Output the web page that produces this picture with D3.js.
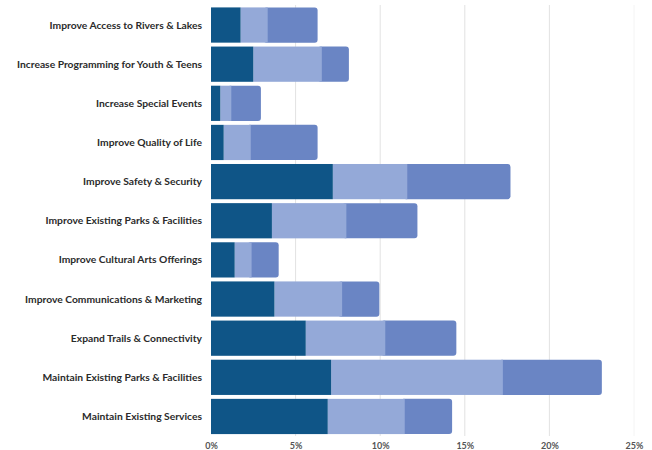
<!DOCTYPE html>
<html>
<head>
<meta charset="utf-8">
<script src="https://cdnjs.cloudflare.com/ajax/libs/d3/7.8.5/d3.min.js"></script>
<style>
  body { margin: 0; background: #fff; }
  svg { display: block; font-family: Lato, "Open Sans", sans-serif; }
</style>
</head>
<body>
<svg width="652" height="450"></svg>
<script>
const categories = [
  "Improve Access to Rivers & Lakes",
  "Increase Programming for Youth & Teens",
  "Increase Special Events",
  "Improve Quality of Life",
  "Improve Safety & Security",
  "Improve Existing Parks & Facilities",
  "Improve Cultural Arts Offerings",
  "Improve Communications & Marketing",
  "Expand Trails & Connectivity",
  "Maintain Existing Parks & Facilities",
  "Maintain Existing Services"
];
// three stacked series, percent
const firstChoice  = [1.75, 2.5, 0.55, 0.75, 7.2, 3.6, 1.4, 3.75, 5.6, 7.1, 6.9];
const secondChoice = [1.6, 4.05, 0.65, 1.6, 4.4, 4.4, 1.0, 4.0, 4.7, 10.15, 4.55];
const thirdChoice  = [2.95, 1.6, 1.75, 3.95, 6.1, 4.2, 1.6, 2.2, 4.2, 5.85, 2.8];
const tickValues = [0, 5, 10, 15, 20, 25];

const colors = ["#0f5587", "#94a9d8", "#6a85c4"];

const svg = d3.select("svg");

const x = d3.scaleLinear().domain([0, 25]).range([211, 634]);
const y = d3.scaleBand().domain(categories).range([3.5, 438])
  .paddingInner(0.1).paddingOuter(0.1);

// grid
svg.append("g").selectAll("line")
  .data(tickValues.slice(1))
  .join("line")
    .attr("x1", d => x(d)).attr("x2", d => x(d))
    .attr("y1", 5).attr("y2", 436)
    .attr("stroke", d => d === 25 ? "#f4f4f4" : "#e2e2e2")
    .attr("stroke-width", 1);

const rows = categories.map((c, i) => {
  const vals = [firstChoice[i], secondChoice[i], thirdChoice[i]];
  let acc = 0;
  return {
    name: c,
    segs: vals.map((v, k) => { const s = {x0: acc, x1: acc + v, k: k}; acc += v; return s; })
  };
});

const rowG = svg.append("g").selectAll("g")
  .data(rows)
  .join("g");

// draw last segment first (rounded right end), others on top
rowG.selectAll("rect")
  .data(d => d.segs.slice().reverse().map(s => Object.assign({name: d.name}, s)))
  .join("rect")
    .attr("x", d => d.k === 2 ? x(d.x0) - 4 : x(d.x0))
    .attr("y", d => y(d.name))
    .attr("width", d => d.k === 2 ? x(d.x1) - x(d.x0) + 4 : x(d.x1) - x(d.x0))
    .attr("height", y.bandwidth())
    .attr("rx", d => d.k === 2 ? 3 : 0)
    .attr("fill", d => colors[d.k]);

// category labels
svg.append("g").selectAll("text")
  .data(categories)
  .join("text")
    .attr("x", 202)
    .attr("y", d => y(d) + y.bandwidth() / 2)
    .attr("dy", "0.35em")
    .attr("text-anchor", "end")
    .attr("font-size", 10.3)
    .attr("font-weight", 700)
    .attr("fill", "#2b2b2b")
    .text(d => d);

// x axis labels
const xAxis = d3.axisBottom(x).tickValues(tickValues).tickSize(0).tickFormat(d => d + "%");
svg.append("g")
  .attr("transform", "translate(0,440)")
  .call(xAxis)
  .call(g => g.select(".domain").remove())
  .call(g => g.selectAll("text")
    .attr("font-size", 9)
    .attr("font-weight", 700)
    .attr("font-family", "Lato, sans-serif")
    .attr("fill", "#555"));
</script>
</body>
</html>
